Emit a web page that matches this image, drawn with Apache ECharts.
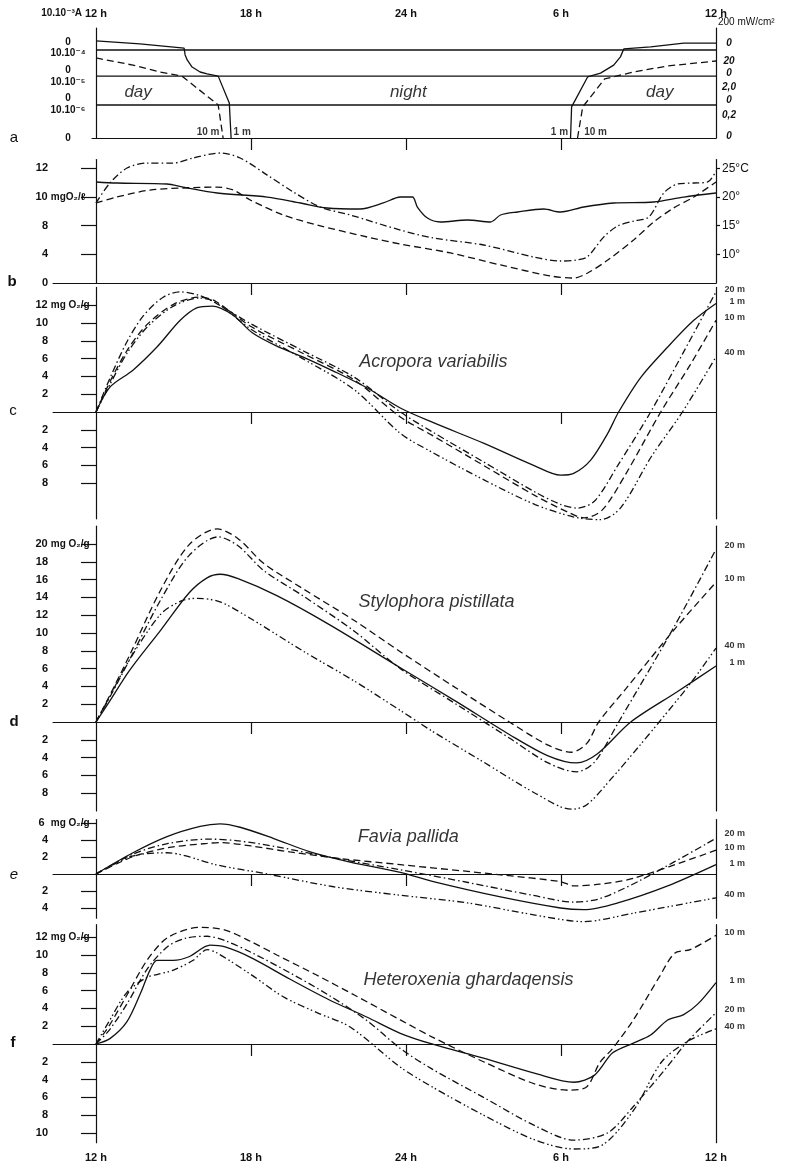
<!DOCTYPE html>
<html>
<head>
<meta charset="utf-8">
<title>Diel oxygen balance of Red Sea corals</title>
<script src="https://cdn.jsdelivr.net/npm/echarts@6/dist/echarts.min.js"></script>
<style>
  html, body { margin: 0; padding: 0; background: #fff; }
  #chart { width: 785px; height: 1166px; }
</style>
</head>
<body>
<div id="chart"></div>
<script>
// x = hours after noon (0 = 12 h, 24 = 12 h next day)
const hourTicks = [0, 6, 12, 18, 24];
const hourLabels = ['12 h', '18 h', '24 h', '6 h', '12 h'];
const innerHourTicks = [6, 12, 18];

// a: light, four stacked decades (one band each)
const lightBandLines = [1.2, 2.25, 3.2];
const lightLeftTicks = [0, 1.02, 1.45, 2.04, 2.47, 3.09, 3.49];
const lightLeftLabels = ['0', '10.10⁻⁶', '0', '10.10⁻⁵', '0', '10.10⁻⁴', '0'];
const lightRightTicks = [0.07, 0.84, 1.38, 1.85, 2.36, 2.8, 3.45];
const lightRightLabels = ['0', '0,2', '0', '2,0', '0', '20', '0'];
const light1mDusk = [[0, 3.53], [1.7, 3.42], [3.41, 3.27], [3.45, 3.02], [3.53, 2.84], [3.72, 2.58], [4.03, 2.4], [4.3, 2.33], [4.73, 2.25], [5.16, 1.27], [5.23, 0]];
const light1mDawn = [[18.37, 0], [18.41, 1.13], [19.03, 2.22], [19.53, 2.36], [20.04, 2.65], [20.3, 2.95], [20.43, 3.24], [21.47, 3.31], [22.75, 3.45], [24, 3.45]];
const light10mDusk = [[0, 2.91], [1.43, 2.65], [2.48, 2.4], [3.33, 2.25], [4.73, 1.2], [4.92, 0]];
const light10mDawn = [[18.64, 0], [18.84, 1.13], [19.69, 2.15], [20.81, 2.4], [22.13, 2.62], [24, 2.8]];

// b: water, temperature scale (°C); left O2 labels sit on the same ticks
const tempTicks = [10, 15, 20, 25];
const tempLabels = ['10°', '15°', '20°', '25°C'];
const oxyTicks = [5, 10, 15, 20, 25];
const oxyLabels = ['0', '4', '8', '10', '12'];
const waterDashDot = [[0, 18.94], [0.54, 22.42], [1.2, 25.03], [1.98, 25.9], [2.98, 25.9], [3.76, 26.78], [4.81, 27.65], [5.58, 26.78], [6.63, 23.8], [7.64, 20.85], [8.68, 18.24], [9.84, 16.85], [11.78, 14.23], [13.06, 12.84], [15.0, 11.62], [16.94, 9.53], [17.98, 8.83], [18.6, 9.0], [19.03, 9.6], [19.65, 13.0], [20.19, 14.93], [20.81, 15.8], [21.4, 16.5], [21.98, 20.68], [22.52, 22.25], [23.14, 22.42], [23.68, 22.6], [24, 24.5]];
const waterDashed = [[0, 18.94], [0.81, 19.98], [2.09, 21.2], [3.37, 21.55], [4.69, 21.72], [5.31, 21.2], [5.97, 19.46], [7.25, 16.85], [8.57, 15.1], [10.5, 13.01], [11.78, 11.79], [13.72, 10.23], [15.66, 8.14], [17.6, 6.22], [18.49, 5.87], [19.03, 6.74], [19.81, 9.0], [20.81, 12.49], [21.59, 15.63], [22.36, 18.07], [23.14, 19.98], [24, 22.6]];
const waterSolid = [[0, 22.6], [0.81, 22.42], [2.75, 22.25], [3.37, 21.72], [4.69, 20.68], [6.63, 19.98], [7.91, 18.94], [8.95, 18.07], [10.23, 17.89], [11.12, 18.94], [11.78, 19.98], [12.25, 19.98], [12.44, 18.24], [12.83, 16.32], [13.33, 15.63], [14.38, 15.98], [15.27, 15.63], [15.66, 16.85], [16.32, 17.37], [17.33, 17.89], [17.98, 17.37], [18.88, 18.24], [20.04, 18.94], [21.59, 19.11], [22.75, 19.98], [24, 20.68]];

// c: Acropora variabilis (mg O2/g)
const acroTicks = [-8, -6, -4, -2, 2, 4, 6, 8, 10, 12];
const acro1m = [[0, 0], [0.54, 2.8], [1.43, 4.7], [2.36, 7.3], [3.26, 10.3], [3.9, 11.7], [4.5, 11.9], [5.3, 10.9], [6.05, 8.9], [7, 7.4], [8, 6.2], [9.19, 4.6], [10.5, 2.7], [11.78, 0.45], [13.06, -1.2], [15.0, -3.5], [16.94, -6.0], [17.98, -7.1], [18.49, -6.9], [19.15, -5.4], [19.81, -2.4], [20.23, 0], [21.09, 3.9], [22.13, 7.3], [23.14, 10.3], [24, 12.2]];
const acro10m = [[0, 0], [0.54, 3.4], [1.2, 6.9], [2, 9.9], [3, 12.1], [4.0, 12.9], [4.6, 12.5], [6, 9.6], [8, 6.6], [10, 3.6], [11.78, -0.56], [13, -2.6], [15, -6], [17, -9.4], [18.3, -11.3], [18.9, -11.9], [19.6, -11], [20.5, -7], [21.86, 0], [23, 5.3], [24, 10.3]];
const acro20m = [[0, 0], [0.54, 3.8], [1.2, 7.9], [1.83, 10.8], [2.6, 12.9], [3.26, 13.5], [4.0, 13.1], [4.6, 12.3], [6, 9.9], [8, 6.9], [10, 3.9], [11.78, 0], [13, -2.2], [15, -5.6], [17, -9.0], [18.0, -10.4], [18.63, -10.8], [19.3, -10], [20.2, -6], [21.47, 0], [22.7, 6.5], [24, 13.5]];
const acro40m = [[0, 0], [0.54, 3.1], [1.2, 6.6], [2, 9.6], [3, 11.9], [4.0, 12.8], [4.6, 12.4], [6, 9.3], [8, 6.0], [10, 2.5], [11.78, -2.4], [13, -4.5], [15, -7.6], [17, -10.4], [18.5, -11.8], [19.53, -12.1], [20.3, -10.8], [21.5, -5], [22.7, 0], [24, 6.2]];

// d: Stylophora pistillata
const stylTicks = [-8, -6, -4, -2, 2, 4, 6, 8, 10, 12, 14, 16, 18, 20];
const styl1m = [[0, 0], [0.5, 2.2], [1.3, 5.8], [2.5, 10.3], [3.6, 14.5], [4.3, 16.2], [4.81, 16.6], [5.5, 16.1], [7, 14.2], [9, 11], [11.78, 6.1], [14, 2.2], [16, -1.4], [17.5, -3.8], [18.6, -4.6], [19.4, -3.6], [20.7, 0], [22.5, 3.4], [24, 6.3]];
const styl10m = [[0, 0], [0.5, 2.8], [1.3, 7.5], [2.5, 14.8], [3.6, 19.9], [4.69, 21.7], [5.5, 20.6], [6.5, 17.8], [8, 15], [10, 11.4], [11.78, 7.9], [14, 3.7], [16, 0], [17.5, -2.6], [18.4, -3.4], [19, -2.4], [19.46, 0], [20.5, 3.7], [22.36, 10.3], [24, 15.7]];
const styl20m = [[0, 0], [0.5, 2.6], [1.3, 7.0], [2.5, 13.7], [3.6, 18.7], [4.73, 20.8], [5.5, 19.8], [6.5, 17], [8, 14.2], [10, 10.2], [11.78, 6.0], [14, 1.9], [16, -1.8], [17.5, -4.6], [18.6, -5.6], [19.3, -4.5], [20.23, 0], [22.36, 10.6], [24, 19.4]];
const styl40m = [[0, 0], [0.5, 2.7], [1.3, 7.0], [2.5, 12.1], [3.3, 13.6], [3.91, 13.9], [4.8, 13.5], [6, 11.6], [8, 8], [10, 4.6], [11.78, 1.3], [13, -1], [15, -4.5], [17, -8], [18.4, -9.8], [19, -9.3], [20, -6.2], [21, -2.8], [21.8, 0], [23, 4.3], [24, 8.3]];

// e: Favia pallida
const faviaTicks = [-4, -2, 2, 4, 6];
const favia1m = [[0, 0], [1.43, 2.5], [2.75, 4.4], [4.03, 5.6], [4.8, 5.9], [5.58, 5.5], [6.86, 4.2], [8.29, 2.6], [9.84, 1.4], [11.78, 0.2], [13.06, -0.9], [15.66, -2.7], [17.98, -4.0], [18.88, -4.2], [20.2, -3.4], [22.13, -1.4], [24, 1.1]];
const favia10m = [[0, 0], [1.4, 2.0], [2.8, 3.1], [4.3, 3.6], [4.8, 3.7], [6, 3.3], [7.5, 2.6], [9.5, 1.8], [11.78, 1.1], [15.66, -0.1], [17.98, -0.9], [18.5, -1.4], [19.5, -1.2], [20.81, -0.5], [24, 2.8]];
const favia20m = [[0, 0], [1.4, 2.3], [2.8, 3.6], [4.4, 4.1], [5.5, 3.9], [7, 3.2], [9, 2.0], [11.78, 0.5], [14.4, -1], [16.9, -2.5], [18.5, -3.3], [19.5, -2.9], [21.1, -0.7], [24, 4.2]];
const favia40m = [[0, 0], [1.4, 2.1], [2.75, 2.5], [4.69, 1.06], [6.63, 0], [9.2, -1.5], [11.78, -2.5], [14.38, -3.4], [16.94, -4.8], [18.88, -5.6], [20.81, -4.6], [24, -2.8]];

// f: Heteroxenia ghardaqensis
const hetTicks = [-10, -8, -6, -4, -2, 2, 4, 6, 8, 10, 12];
const het1m = [[0, 0], [0.54, 0.6], [1.2, 2.5], [1.74, 5.8], [2.09, 8.3], [2.36, 9.4], [2.98, 9.4], [3.6, 9.8], [4.42, 11.1], [5, 10.9], [6, 9.7], [7.5, 7.3], [9, 5], [10.5, 3], [11.78, 1.2], [13, 0], [15, -1.6], [17, -3.3], [18.5, -4.3], [19.3, -3.5], [20, -1], [20.8, 0.1], [21.47, 1], [22.13, 2.7], [22.75, 3.3], [23.3, 4.5], [24, 6.9]];
const het10m = [[0, 0], [0.5, 2], [1.2, 5.5], [2, 9.5], [2.8, 12], [4.03, 13.1], [5, 12.8], [6, 11.5], [7, 10], [8.5, 7.8], [10, 5.5], [11.78, 2.7], [13, 0.8], [15, -2], [17, -4.5], [18.3, -5.2], [19, -4.8], [19.5, -2.1], [20, -0.5], [20.8, 2.7], [21.8, 7.5], [22.4, 10.2], [23, 10.6], [24, 12.2]];
const het20m = [[0, 0], [0.5, 1.5], [1.2, 4.5], [2, 8.5], [2.8, 11], [3.5, 11.9], [4.3, 12.1], [5, 11.6], [6, 10.3], [7.5, 8], [9, 5.5], [10.5, 2.6], [11.78, -0.5], [13, -2.8], [15, -6], [17, -9.2], [18.5, -10.8], [19.8, -10], [20.81, -7], [22.13, -2.5], [22.9, 0.3], [24, 3.5]];
const het40m = [[0, 0], [0.5, 2.5], [1.2, 5.8], [1.98, 7.5], [2.36, 7.8], [3, 8.3], [3.76, 9.4], [4.3, 10.6], [4.7, 10.2], [6, 7.8], [7.25, 5.3], [8.57, 3.5], [9.84, 1.9], [11.78, -2.6], [13, -4.8], [15, -8], [17, -10.8], [18.5, -11.8], [19.5, -11.5], [20.8, -7.5], [21.9, -2], [22.9, 0.3], [24, 1.7]];

// text notes [x, y, text, kind] in each panel's data space
const notesA = [[1.63, 1.67, 'day', 'big'], [12.09, 1.67, 'night', 'big'], [21.82, 1.67, 'day', 'big'],
  [4.34, 0.22, '10 m', 'small'], [5.66, 0.22, '1 m', 'small'], [17.94, 0.22, '1 m', 'small'], [19.34, 0.22, '10 m', 'small']];
const notesC = [[13.06, 5.62, 'Acropora variabilis', 'species'], [25.12, 13.71, '20 m', 'depth'], [25.12, 12.47, '1 m', 'depth'], [25.12, 10.67, '10 m', 'depth'], [25.12, 6.63, '40 m', 'depth']];
const notesD = [[13.18, 13.48, 'Stylophora pistillata', 'species'], [25.12, 19.78, '20 m', 'depth'], [25.12, 16.07, '10 m', 'depth'], [25.12, 8.54, '40 m', 'depth'], [25.12, 6.63, '1 m', 'depth']];
const notesE = [[12.09, 4.35, 'Favia pallida', 'species'], [25.12, 4.82, '20 m', 'depth'], [25.12, 3.06, '10 m', 'depth'], [25.12, 1.29, '1 m', 'depth'], [25.12, -2.47, '40 m', 'depth']];
const notesF = [[14.42, 7.19, 'Heteroxenia ghardaqensis', 'species'], [25.12, 12.47, '10 m', 'depth'], [25.12, 7.08, '1 m', 'depth'], [25.12, 3.82, '20 m', 'depth'], [25.12, 1.91, '40 m', 'depth']];

const INK = '#111111';
const FONT = '"Liberation Sans", Arial, "DejaVu Sans", sans-serif';
const axisLine = { color: INK, width: 1.2 };
const dash = { solid: 'solid', dashed: [7, 4], dashDot: [7, 3, 1.5, 3], dashDotDot: [7, 3, 1.5, 2.5, 1.5, 3] };

const labelOf = (ticks, labels) => v => {
  let best = 0;
  ticks.forEach((t, i) => { if (Math.abs(t - v) < Math.abs(ticks[best] - v)) best = i; });
  return labels[best];
};

const grids = [
  { left: 92, right: 69, top: 28, height: 110 },
  { left: 53, right: 69, top: 159.6, height: 123.4 },
  { left: 53, right: 69, top: 287.4, height: 231.4 },
  { left: 53, right: 69, top: 526.2, height: 284.8 },
  { left: 53, right: 69, top: 819.6, height: 98.6 },
  { left: 53, right: 69, top: 924.7, height: 218.05 }
].map(g => Object.assign({ containLabel: false, outerBoundsMode: 'none' }, g));

const yRange = [[0, 4], [5, 26.5], [-12, 14], [-10, 22], [-5.2, 6.4], [-11.1, 13.4]];
const xMin = [-0.155, -1.664, -1.664, -1.664, -1.664, -1.664];
// labels are anchored at the grid edge, not at the shifted axis line
const LABEL_MARGIN = 18;

const xAxes = grids.map((g, i) => ({
  type: 'value', gridIndex: i, min: xMin[i], max: 24,
  axisLine: { show: true, onZero: true, lineStyle: axisLine },
  axisTick: { show: true, customValues: innerHourTicks, length: 12, inside: false, lineStyle: axisLine },
  axisLabel: { show: false }, splitLine: { show: false }
}));
const hourLabelStyle = { show: true, customValues: hourTicks, formatter: labelOf(hourTicks, hourLabels), color: INK, fontFamily: FONT, fontWeight: 'bold', fontSize: 11, hideOverlap: false };
xAxes.push({
  type: 'value', gridIndex: 0, min: xMin[0], max: 24, position: 'top',
  axisLine: { show: false, onZero: false }, axisTick: { show: false }, splitLine: { show: false },
  axisLabel: Object.assign({ margin: 9 }, hourLabelStyle)
});
xAxes.push({
  type: 'value', gridIndex: 5, min: xMin[5], max: 24, position: 'bottom',
  axisLine: { show: false, onZero: false }, axisTick: { show: false }, splitLine: { show: false },
  axisLabel: Object.assign({ margin: 10 }, hourLabelStyle)
});

const numRich = {
  n: { width: 13, align: 'right', fontSize: 11, fontWeight: 'bold', fontFamily: FONT, color: INK },
  u: { fontSize: 10, fontWeight: 'bold', fontFamily: FONT, color: INK }
};
const frameAxis = i => ({
  type: 'value', gridIndex: i, min: yRange[i][0], max: yRange[i][1], position: 'right',
  axisLine: { show: true, onZero: false, lineStyle: axisLine },
  axisTick: { show: false }, axisLabel: { show: false }, splitLine: { show: false }
});
const oxyAxis = (i, ticks, top) => ({
  type: 'value', gridIndex: i, min: yRange[i][0], max: yRange[i][1], position: 'left',
  axisLine: { show: true, onZero: true, lineStyle: axisLine },
  axisTick: { show: true, customValues: ticks, length: 15, lineStyle: axisLine },
  axisLabel: {
    show: true, customValues: ticks, align: 'left', margin: LABEL_MARGIN, hideOverlap: false, rich: numRich,
    formatter: v => (v === top ? `{n|${v}}{u| mg O₂/g}` : `{n|${Math.abs(v)}}`)
  },
  splitLine: { show: false }
});

const yAxes = [
  {
    type: 'value', gridIndex: 0, min: 0, max: 4, position: 'left',
    name: '10.10⁻³A', nameLocation: 'end', nameGap: 10, nameMoveOverlap: false,
    nameTextStyle: { align: 'right', padding: [0, 14, 0, 0], color: INK, fontFamily: FONT, fontWeight: 'bold', fontSize: 10 },
    axisLine: { show: true, onZero: true, lineStyle: axisLine }, axisTick: { show: false }, splitLine: { show: false },
    axisLabel: { show: true, customValues: lightLeftTicks, formatter: labelOf(lightLeftTicks, lightLeftLabels), align: 'center', margin: 24, hideOverlap: false, color: INK, fontFamily: FONT, fontWeight: 'bold', fontSize: 10 }
  },
  {
    type: 'value', gridIndex: 0, min: 0, max: 4, position: 'right',
    name: '200 mW/cm²', nameLocation: 'end', nameGap: 1, nameMoveOverlap: false,
    nameTextStyle: { align: 'left', padding: [0, 0, 0, 2], color: INK, fontFamily: FONT, fontSize: 10 },
    axisLine: { show: true, onZero: false, lineStyle: axisLine }, axisTick: { show: false }, splitLine: { show: false },
    axisLabel: { show: true, customValues: lightRightTicks, formatter: labelOf(lightRightTicks, lightRightLabels), align: 'center', margin: 13, hideOverlap: false, color: INK, fontFamily: FONT, fontWeight: 'bold', fontStyle: 'italic', fontSize: 10 }
  },
  {
    type: 'value', gridIndex: 1, min: yRange[1][0], max: yRange[1][1], position: 'left',
    axisLine: { show: true, onZero: true, lineStyle: axisLine },
    axisTick: { show: true, customValues: tempTicks, length: 15, lineStyle: axisLine }, splitLine: { show: false },
    axisLabel: {
      show: true, customValues: oxyTicks, align: 'left', margin: LABEL_MARGIN, hideOverlap: false, rich: numRich,
      formatter: v => { const t = labelOf(oxyTicks, oxyLabels)(v); return t === '10' ? `{n|${t}}{u| mgO₂/ℓ}` : `{n|${t}}`; }
    }
  },
  {
    type: 'value', gridIndex: 1, min: yRange[1][0], max: yRange[1][1], position: 'right',
    axisLine: { show: true, onZero: false, lineStyle: axisLine },
    axisTick: { show: true, customValues: tempTicks, length: 4, lineStyle: axisLine }, splitLine: { show: false },
    axisLabel: { show: true, customValues: tempTicks, formatter: labelOf(tempTicks, tempLabels), margin: 6, hideOverlap: false, color: INK, fontFamily: FONT, fontSize: 12 }
  },
  oxyAxis(2, acroTicks, 12), frameAxis(2),
  oxyAxis(3, stylTicks, 20), frameAxis(3),
  oxyAxis(4, faviaTicks, 6), frameAxis(4),
  oxyAxis(5, hetTicks, 12), frameAxis(5)
];

const line = (gi, data, type, smooth) => ({
  type: 'line', xAxisIndex: gi, yAxisIndex: 2 * gi, data,
  smooth: smooth === undefined ? 0.3 : smooth, showSymbol: false, clip: false, silent: true,
  lineStyle: { color: INK, width: 1.3, type }
});

const noteStyles = {
  big: { fontSize: 17, fontStyle: 'italic' },
  small: { fontSize: 10, fontWeight: 'bold' },
  species: { fontSize: 18, fontStyle: 'italic' },
  depth: { fontSize: 9, fontWeight: 'bold', align: 'right' }
};
const notes = (gi, items) => ({
  type: 'scatter', xAxisIndex: gi, yAxisIndex: 2 * gi, symbolSize: 1, clip: false, silent: true,
  itemStyle: { color: 'transparent' },
  data: items.map(([x, y, text, kind]) => ({
    value: [x, y], name: text,
    label: Object.assign({ show: true, position: 'inside', formatter: '{b}', color: '#000', fontFamily: FONT }, noteStyles[kind])
  }))
});

const series = [
  ...lightBandLines.map(v => line(0, [[0, v], [24, v]], 'solid', false)),
  line(0, light1mDusk, dash.solid, false), line(0, light1mDawn, dash.solid, false),
  line(0, light10mDusk, dash.dashed, false), line(0, light10mDawn, dash.dashed, false),
  notes(0, notesA),
  line(1, waterSolid, dash.solid), line(1, waterDashDot, dash.dashDot), line(1, waterDashed, dash.dashed),
  line(2, acro1m, dash.solid), line(2, acro10m, dash.dashed), line(2, acro20m, dash.dashDot), line(2, acro40m, dash.dashDotDot),
  notes(2, notesC),
  line(3, styl1m, dash.solid), line(3, styl10m, dash.dashed), line(3, styl20m, dash.dashDot), line(3, styl40m, dash.dashDotDot),
  notes(3, notesD),
  line(4, favia1m, dash.solid), line(4, favia10m, dash.dashed), line(4, favia20m, dash.dashDot), line(4, favia40m, dash.dashDotDot),
  notes(4, notesE),
  line(5, het1m, dash.solid), line(5, het10m, dash.dashed), line(5, het20m, dash.dashDot), line(5, het40m, dash.dashDotDot),
  notes(5, notesF)
];

// panel letters
const letters = [['a', 14, 138, 'normal'], ['b', 12, 282, 'bold'], ['c', 13, 411, 'normal'], ['d', 14, 722, 'bold'], ['e', 14, 875, 'italic'], ['f', 13, 1043, 'bold']];

const chart = echarts.init(document.getElementById('chart'), null, { renderer: 'canvas' });
chart.setOption({
  animation: false,
  backgroundColor: '#ffffff',
  textStyle: { fontFamily: FONT, color: INK },
  grid: grids,
  xAxis: xAxes,
  yAxis: yAxes,
  series,
  graphic: letters.map(([t, x, y, st]) => ({
    type: 'text', x, y,
    style: {
      text: t, fill: INK, align: 'center', verticalAlign: 'middle',
      font: (st === 'italic' ? 'italic ' : st === 'bold' ? 'bold ' : '') + '15px ' + FONT
    }
  }))
});
</script>
</body>
</html>
